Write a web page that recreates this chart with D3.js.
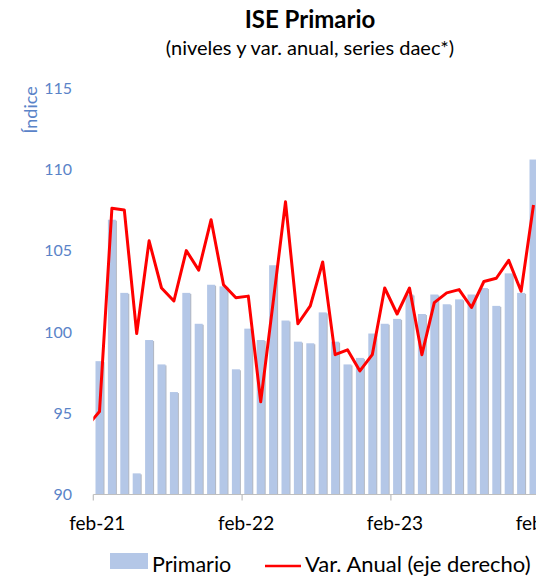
<!DOCTYPE html>
<html>
<head>
<meta charset="utf-8">
<script src="https://cdn.jsdelivr.net/npm/d3@7"></script>
<style>
  body { margin: 0; background: #fff; }
  svg { display: block; font-family: Lato, "Open Sans", sans-serif; }
</style>
</head>
<body>
<svg width="536" height="579"></svg>
<script>
// months shown as bars (feb-21 .. ene-24)
var months = ["feb-21","mar-21","abr-21","may-21","jun-21","jul-21","ago-21","sep-21","oct-21","nov-21","dic-21","ene-22",
              "feb-22","mar-22","abr-22","may-22","jun-22","jul-22","ago-22","sep-22","oct-22","nov-22","dic-22","ene-23",
              "feb-23","mar-23","abr-23","may-23","jun-23","jul-23","ago-23","sep-23","oct-23","nov-23","dic-23","ene-24"]
var primario = [98.2,106.9,102.4,91.3,99.5,98.0,96.3,102.4,100.5,102.9,102.8,97.7,
                100.2,99.5,104.1,100.7,99.4,99.3,101.2,99.4,98.0,98.4,99.9,100.5,
                100.8,102.3,101.1,102.3,101.7,102.0,102.3,102.7,101.6,103.6,102.4,110.6]
// var. anual (%) starts one month earlier (ene-21), clipped at the plot edge
var varMonths = ["ene-21"].concat(months)
var varAnual = [-5.8,-4.9,7.6,7.5,-0.1,5.6,2.7,1.9,5.0,3.8,6.9,2.9,2.1,
                2.2,-4.3,1.8,8.0,0.5,1.6,4.3,-1.4,-1.1,-2.4,-1.4,2.7,
                1.1,2.7,-1.4,1.8,2.4,2.6,1.5,3.1,3.3,4.4,2.5,7.8]
var leftTicks = [90,95,100,105,110,115]
var xLabels = ["feb-21","feb-22","feb-23","feb-24"]

var svg = d3.select("svg")
var plotTop = 88, plotBottom = 494.5, plotLeft = 93.3
var step = 12.4

var x = d3.scaleLinear().domain([0, 36]).range([plotLeft, plotLeft + 36 * step])
var y = d3.scaleLinear().domain([90, 115]).range([plotBottom, plotTop])
var y2 = d3.scaleLinear().domain([-10, 15]).range([plotBottom, plotTop])

svg.append("defs").append("clipPath").attr("id", "plotclip")
   .append("rect").attr("x", plotLeft).attr("y", 0).attr("width", 600).attr("height", plotBottom + 2)

// titles
svg.append("text").attr("x", 310).attr("y", 28).attr("text-anchor", "middle")
   .attr("font-size", "24px").attr("font-weight", "bold").attr("fill", "#000")
   .text("ISE Primario")
svg.append("text").attr("x", 310).attr("y", 55).attr("text-anchor", "middle")
   .attr("font-size", "20px").attr("fill", "#000")
   .text("(niveles y var. anual, series daec*)")

// left axis labels
svg.append("g")
   .attr("transform", "translate(" + 80 + ",0)")
   .call(d3.axisLeft(y).tickValues(leftTicks).tickSize(0).tickPadding(8))
   .call(function(g) { g.select(".domain").remove() })
   .selectAll("text")
   .attr("font-size", "16px").attr("fill", "#5a83c8").attr("font-family", "Lato, sans-serif")

svg.append("text")
   .attr("transform", "translate(37,110) rotate(-90)")
   .attr("text-anchor", "middle")
   .attr("font-size", "18px").attr("fill", "#5a83c8")
   .text("Índice")

// bars
var bw = 8
var bars = svg.append("g")
bars.selectAll("rect.sh").data(primario).enter().append("rect")
   .attr("class", "sh")
   .attr("x", function(d, i) { return x(i + 0.5) - bw / 2 + 1 })
   .attr("y", function(d) { return y(d) + 1 })
   .attr("width", bw)
   .attr("height", function(d) { return plotBottom - y(d) - 1 })
   .attr("fill", "#b3b8c2")
bars.selectAll("rect.bar").data(primario).enter().append("rect")
   .attr("class", "bar")
   .attr("x", function(d, i) { return x(i + 0.5) - bw / 2 })
   .attr("y", function(d) { return y(d) })
   .attr("width", bw)
   .attr("height", function(d) { return plotBottom - y(d) })
   .attr("fill", "#b4c7e7")

// bottom axis
var xAxis = svg.append("g").attr("transform", "translate(0," + plotBottom + ")")
xAxis.append("line").attr("x1", plotLeft).attr("x2", 540).attr("stroke", "#bfbfbf").attr("stroke-width", 1.2)
xAxis.selectAll("line.tk").data(xLabels).enter().append("line")
   .attr("class", "tk")
   .attr("x1", function(d, i) { return x(i * 12) }).attr("x2", function(d, i) { return x(i * 12) })
   .attr("y1", 0).attr("y2", 6).attr("stroke", "#bfbfbf").attr("stroke-width", 1.2)
xAxis.selectAll("text").data(xLabels).enter().append("text")
   .attr("x", function(d, i) { return x(i * 12) + 4 })
   .attr("y", 35)
   .attr("text-anchor", "middle")
   .attr("font-size", "19px").attr("fill", "#000")
   .text(function(d) { return d })

// var. anual line
var line = d3.line()
   .x(function(d, i) { return x(i - 0.5) })
   .y(function(d) { return y2(d) })
svg.append("path")
   .datum(varAnual)
   .attr("clip-path", "url(#plotclip)")
   .attr("d", line)
   .attr("fill", "none")
   .attr("stroke", "#ff0000")
   .attr("stroke-width", 3)
   .attr("stroke-linejoin", "round")

// legend
var lg = svg.append("g")
lg.append("rect").attr("x", 110).attr("y", 553).attr("width", 38).attr("height", 16).attr("fill", "#b4c7e7")
lg.append("text").attr("x", 152).attr("y", 572).attr("font-size", "21.5px").attr("fill", "#000").text("Primario")
lg.append("line").attr("x1", 265).attr("x2", 301).attr("y1", 566).attr("y2", 566)
   .attr("stroke", "#ff0000").attr("stroke-width", 2.5)
lg.append("text").attr("x", 305).attr("y", 572).attr("font-size", "22px").attr("fill", "#000").text("Var. Anual (eje derecho)")
</script>
</body>
</html>
